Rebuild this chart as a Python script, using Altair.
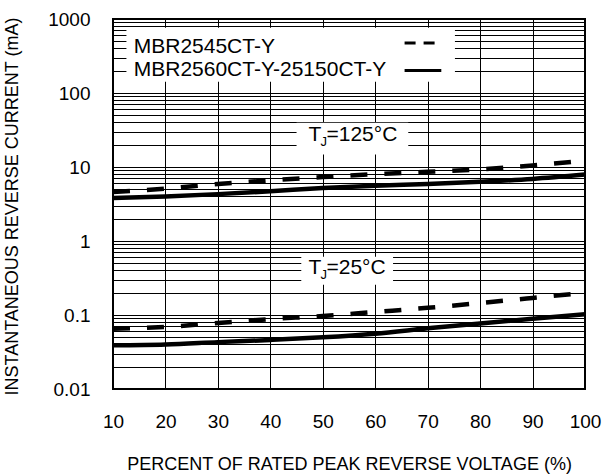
import altair as alt
import pandas as pd

# ---------------- data ----------------
voltage = [10, 20, 30, 40, 50, 60, 70, 80, 90, 100]
mbr2545_125 = [4.6, 5.1, 5.9, 6.6, 7.3, 8.0, 8.6, 9.3, 10.5, 12.2]
mbr2560_125 = [3.8, 4.0, 4.3, 4.7, 5.2, 5.6, 5.9, 6.3, 6.9, 7.9]
mbr2545_25 = [0.065, 0.069, 0.078, 0.088, 0.097, 0.110, 0.125, 0.145, 0.170, 0.200]
mbr2560_25 = [0.039, 0.040, 0.043, 0.046, 0.050, 0.056, 0.066, 0.077, 0.089, 0.102]
series_names = ["MBR2545CT-Y", "MBR2560CT-Y-25150CT-Y"]
decade_labels = ["0.01", "0.1", "1", "10", "100", "1000"]
x_ticks = [10, 20, 30, 40, 50, 60, 70, 80, 90, 100]

rows = []
for name, temp, vals in [
    (series_names[0], "125", mbr2545_125),
    (series_names[1], "125", mbr2560_125),
    (series_names[0], "25", mbr2545_25),
    (series_names[1], "25", mbr2560_25),
]:
    for v, c in zip(voltage, vals):
        rows.append({"x": v, "y": c, "series": name, "key": name + "_" + temp})
df = pd.DataFrame(rows)

grid_values = sorted({float(f"{k}e{e}") for e in range(-2, 3) for k in range(1, 10)} | {1000.0})
label_expr = " : ".join(f"datum.value == {lab} ? '{lab}'" for lab in decade_labels) + " : ''"

FONT = "Liberation Sans"
xs = alt.Scale(domain=[10, 100], nice=False, zero=False)
ys = alt.Scale(type="log", domain=[0.01, 1000], nice=False)

x_axis = alt.Axis(values=x_ticks, title="PERCENT OF RATED PEAK REVERSE VOLTAGE (%)",
                  grid=True, ticks=False, domain=False, labelPadding=23, labelFlush=False,
                  labelFontSize=19, titleFontSize=18, titleFontWeight="normal",
                  titleY=66, titleX=236, titleBaseline="top")
y_axis = alt.Axis(values=grid_values, labelExpr=label_expr,
                  title="INSTANTANEOUS REVERSE CURRENT (mA)",
                  grid=True, ticks=False, domain=False, labelPadding=23, labelFlush=False,
                  labelFontSize=19, titleFontSize=18, titleFontWeight="normal",
                  titleX=-91.5, titleY=187, labelOverlap=False)

def X():
    return alt.X("x:Q", scale=xs, axis=x_axis)

def Y():
    return alt.Y("y:Q", scale=ys, axis=y_axis)

# annotation boxes (white backgrounds) in data units
boxes = pd.DataFrame([
    {"x": 12.56, "x2": 75.2, "y": 762, "y2": 142},     # legend
    {"x": 45.0, "x2": 66.3, "y": 39.7, "y2": 14.7},    # TJ=125
    {"x": 45.9, "x2": 63.4, "y": 0.614, "y2": 0.257},  # TJ=25
])
legend_text = pd.DataFrame([
    {"x": 13.95, "y": 416, "text": series_names[0]},
    {"x": 13.95, "y": 202, "text": series_names[1]},
])
legend_sym = pd.DataFrame([
    {"x": 65.6, "x2": 72.5, "y": 474, "series": series_names[0]},
    {"x": 65.6, "x2": 72.6, "y": 202, "series": series_names[1]},
])
tj_T = pd.DataFrame([{"x": 47.3, "y": 27.1, "text": "T"}, {"x": 47.3, "y": 0.431, "text": "T"}])
tj_J = pd.DataFrame([{"x": 49.55, "y": 27.1, "text": "J"}, {"x": 49.55, "y": 0.431, "text": "J"}])
tj_rest = pd.DataFrame([{"x": 50.7, "y": 27.1, "text": "=125°C"}, {"x": 50.7, "y": 0.431, "text": "=25°C"}])

base = alt.Chart(df)
dashed = base.transform_filter(alt.datum.series == series_names[0]).mark_line(
    color="black", strokeWidth=4.5, strokeDash=[17, 17], interpolate="monotone"
).encode(x=X(), y=Y(), detail="key:N")
solid = base.transform_filter(alt.datum.series == series_names[1]).mark_line(
    color="black", strokeWidth=4.5, interpolate="monotone"
).encode(x=X(), y=Y(), detail="key:N")

box_layer = alt.Chart(boxes).mark_rect(fill="white").encode(
    x=X(), x2="x2:Q", y=Y(), y2="y2:Q",
)

sym_dash = alt.Chart(legend_sym).transform_filter(alt.datum.series == series_names[0]).mark_rule(
    color="black", strokeWidth=3, strokeDash=[11, 8]
).encode(x=X(), x2="x2:Q", y=Y())
sym_solid = alt.Chart(legend_sym).transform_filter(alt.datum.series == series_names[1]).mark_rule(
    color="black", strokeWidth=3
).encode(x=X(), x2="x2:Q", y=Y())

def text_layer(data, size, dy=0):
    return alt.Chart(data).mark_text(
        align="left", baseline="middle", font=FONT, fontSize=size, color="black", dy=dy
    ).encode(x=X(), y=Y(), text="text:N")

chart = alt.layer(
    dashed, solid, box_layer, sym_dash, sym_solid,
    text_layer(legend_text, 21),
    text_layer(tj_T, 21), text_layer(tj_J, 13, dy=7), text_layer(tj_rest, 21),
).properties(
    width=472, height=370,
    autosize=alt.AutoSizeParams(type="none"),
    padding={"left": 113, "top": 19, "right": 20, "bottom": 87},
    background="white",
).configure_view(
    stroke="black", strokeWidth=2
).configure_axis(
    gridColor="black", gridWidth=1, gridOpacity=1,
    labelFont=FONT, titleFont=FONT, labelColor="black", titleColor="black",
)

chart.save("out.html", embed_options={"renderer": "svg", "actions": False})
